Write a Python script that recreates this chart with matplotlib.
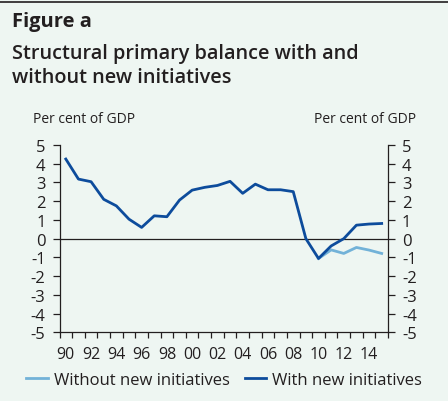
import matplotlib
matplotlib.use("Agg")
import matplotlib.pyplot as plt
import numpy as np

years = list(range(1990, 2016))
with_initiatives = [4.25, 3.18, 3.04, 2.10, 1.75, 1.04, 0.60, 1.22, 1.17, 2.06,
                    2.59, 2.74, 2.84, 3.06, 2.42, 2.91, 2.61, 2.61, 2.51, 0.0,
                    -1.06, -0.39, 0.0, 0.72, 0.78, 0.81]
without_years = [2010, 2011, 2012, 2013, 2014, 2015]
without_initiatives = [-1.06, -0.60, -0.79, -0.47, -0.61, -0.79]
x_labels = ["90", "92", "94", "96", "98", "00", "02", "04", "06", "08", "10", "12", "14"]
y_ticks = [5, 4, 3, 2, 1, 0, -1, -2, -3, -4, -5]

BG = "#eef6f2"
DARK = "#0d4c9c"
LIGHT = "#72b2d8"
TXT = "#231f20"
FONT = "Open Sans"

W, H = 448, 402
fig = plt.figure(figsize=(W / 100, H / 100), dpi=100, facecolor=BG)

def px(x, y):
    return x / W, 1 - y / H

# top rule
fig.add_artist(plt.Line2D([0, 1], [1 - 3 / H, 1 - 3 / H], color=TXT, lw=1.2,
                          transform=fig.transFigure))

fig.text(*px(12, 27), "Figure a", fontsize=14.5, fontweight="bold", family=FONT,
         color=TXT, va="baseline")
fig.text(*px(12, 59), "Structural primary balance with and", fontsize=14.3,
         fontweight="semibold", family=FONT, color=TXT, va="baseline")
fig.text(*px(12, 83), "without new initiatives", fontsize=14.3,
         fontweight="semibold", family=FONT, color=TXT, va="baseline")
fig.text(*px(33, 123), "Per cent of GDP", fontsize=10, family=FONT, color=TXT,
         va="baseline")
fig.text(*px(314, 123), "Per cent of GDP", fontsize=10, family=FONT, color=TXT,
         va="baseline")

left, right, top, bottom = 59.5, 388, 146, 333.3
ax = fig.add_axes([left / W, 1 - bottom / H, (right - left) / W, (bottom - top) / H])
ax.set_facecolor(BG)
ax.set_xlim(1989.5, 2015.5)
ax.set_ylim(-5, 5)

ax.axhline(0, color=TXT, lw=0.9, zorder=1)
l1, = ax.plot(without_years, without_initiatives, color=LIGHT, lw=2.0, zorder=2,
              label="Without new initiatives")
l2, = ax.plot(years, with_initiatives, color=DARK, lw=2.0, zorder=3,
              label="With new initiatives")

ax.spines["top"].set_visible(False)
for s in ["left", "right", "bottom"]:
    ax.spines[s].set_color(TXT)
    ax.spines[s].set_linewidth(0.9)

ax.set_yticks(y_ticks)
ax.set_yticklabels([str(v) for v in y_ticks])
ax.tick_params(axis="y", which="major", direction="out", length=5, width=0.9,
               color=TXT, labelsize=12, labelcolor=TXT, pad=5,
               left=True, right=True, labelleft=True, labelright=True)
for lab in ax.get_yticklabels():
    lab.set_family(FONT)

ax.set_xticks(np.arange(1989.5, 2016.0, 1.0), minor=True)
ax.set_xticks(list(range(1990, 2015, 2)))
ax.set_xticklabels(x_labels)
ax.tick_params(axis="x", which="minor", direction="out", length=4, width=0.9, color=TXT)
ax.tick_params(axis="x", which="major", length=0, labelsize=11.5, labelcolor=TXT, pad=10)
for lab in ax.get_xticklabels():
    lab.set_family(FONT)

leg = fig.legend(handles=[l1, l2], loc="center", bbox_to_anchor=(0.5, 1 - 381 / H),
                 ncol=2, frameon=False, prop={"family": FONT, "size": 12},
                 handlelength=1.3, handletextpad=0.35, columnspacing=0.9,
                 labelcolor=TXT)

fig.savefig("out.png", dpi=100, facecolor=BG)
